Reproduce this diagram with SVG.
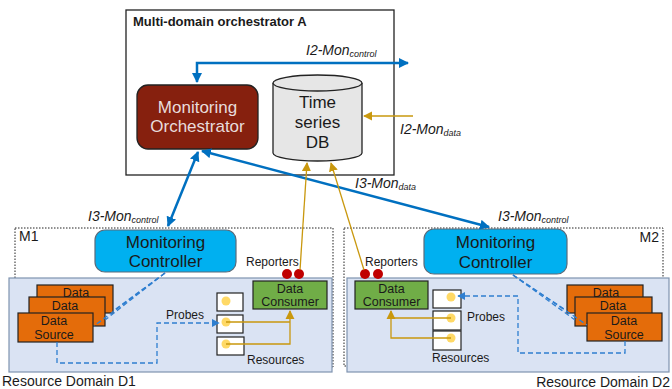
<svg xmlns="http://www.w3.org/2000/svg" width="672" height="389" viewBox="0 0 672 389">
  <style>
    text { font-family: "Liberation Sans", Arial, sans-serif; fill: #1a1a1a; }
    .title { font-size: 13px; font-weight: bold; }
    .big { font-size: 17px; text-anchor: middle; }
    .mid { font-size: 12.5px; text-anchor: middle; }
    .lbl { font-size: 12px; }
    .dom { font-size: 14px; }
    .iface { font-size: 14px; font-style: italic; }
    .sub { font-size: 9px; }
    .ctrl { stroke: #0070c0; stroke-width: 2.5; fill: none; }
    .data { stroke: #c9980e; stroke-width: 1.3; fill: none; }
    .probe { stroke: #2f7fd0; stroke-width: 1.3; fill: none; stroke-dasharray: 5 3; }
    .frame { fill: none; stroke: #222; stroke-width: 1; stroke-dasharray: 1.5 1.5; }
    .domain { fill: #dae3f3; stroke: #7f93b0; stroke-width: 1.2; }
    .src { fill: #e46c0a; stroke: #222; stroke-width: 1.2; }
    .res { fill: #fff; stroke: #222; stroke-width: 1.2; }
    .dot { fill: #ffd966; }
    .rep { fill: #c00000; }
    .consumer { fill: #70ad47; stroke: #222; stroke-width: 1.2; }
    .controller { fill: #00b0f0; stroke: #5a6b7b; stroke-width: 1.2; }
  </style>
  <defs>
    <marker id="arrBlue" viewBox="0 0 10 10" refX="9" refY="5" markerWidth="4" markerHeight="4" orient="auto-start-reverse" markerUnits="strokeWidth">
      <path d="M0,0 L10,5 L0,10 z" fill="#0070c0"/>
    </marker>
    <marker id="arrGold" viewBox="0 0 10 10" refX="9" refY="5" markerWidth="7" markerHeight="7" orient="auto" markerUnits="strokeWidth">
      <path d="M0,0 L10,5 L0,10 z" fill="#c9980e"/>
    </marker>
    <marker id="arrProbe" viewBox="0 0 10 10" refX="9" refY="5" markerWidth="6" markerHeight="6" orient="auto" markerUnits="strokeWidth">
      <path d="M0,0 L10,5 L0,10 z" fill="#2f7fd0"/>
    </marker>
  </defs>

  <!-- Orchestrator frame -->
  <g id="orchestrator-a">
    <rect x="126" y="10" width="268" height="165" fill="#fff" stroke="#222" stroke-width="1.3"/>
    <text class="title" x="133" y="26">Multi-domain orchestrator A</text>
  </g>

  <!-- Monitoring domain frames -->
  <g id="m1-frame">
    <rect class="frame" x="15" y="228" width="318" height="139"/>
    <text class="dom" x="19" y="241">M1</text>
  </g>
  <g id="m2-frame">
    <rect class="frame" x="344" y="228" width="319" height="138"/>
    <text class="dom" x="659" y="242" text-anchor="end">M2</text>
  </g>

  <!-- Resource domains -->
  <g id="domain-d1">
    <rect class="domain" x="9" y="278" width="323" height="94"/>
    <text class="dom" x="2" y="386">Resource Domain D1</text>
  </g>
  <g id="domain-d2">
    <rect class="domain" x="347" y="278" width="322" height="94"/>
    <text class="dom" x="670" y="387" text-anchor="end">Resource Domain D2</text>
  </g>

  <!-- Monitoring orchestrator -->
  <g id="monitoring-orchestrator">
    <rect x="137" y="85" width="121" height="64" rx="11" fill="#86200e" stroke="#222" stroke-width="1.3"/>
    <text class="big" x="197.5" y="113" style="fill:#e8dcdc">Monitoring</text>
    <text class="big" x="197.5" y="132" style="fill:#e8dcdc">Orchestrator</text>
  </g>

  <!-- Time series DB -->
  <g id="time-series-db">
    <path d="M273,83 L273,153 A44.5,8 0 0 0 362,153 L362,83" fill="#e6e6e6" stroke="#222" stroke-width="1.3"/>
    <ellipse cx="317.5" cy="83" rx="44.5" ry="8" fill="#e6e6e6" stroke="#222" stroke-width="1.3"/>
    <text class="big" x="317.5" y="108">Time</text>
    <text class="big" x="317.5" y="128">series</text>
    <text class="big" x="317.5" y="148">DB</text>
  </g>

  <!-- Monitoring controllers -->
  <g id="controller-m1">
    <rect class="controller" x="95" y="230" width="141" height="42" rx="10"/>
    <text class="big" x="165.5" y="248">Monitoring</text>
    <text class="big" x="165.5" y="267">Controller</text>
  </g>
  <g id="controller-m2">
    <rect class="controller" x="424" y="229" width="143" height="45" rx="10"/>
    <text class="big" x="495.5" y="248">Monitoring</text>
    <text class="big" x="495.5" y="268">Controller</text>
  </g>

  <!-- Data consumers with reporters -->
  <g id="consumer-m1">
    <rect class="consumer" x="253" y="281" width="74" height="28"/>
    <text class="mid" x="290" y="293">Data</text>
    <text class="mid" x="290" y="306">Consumer</text>
    <circle class="rep" cx="287" cy="274" r="5"/>
    <circle class="rep" cx="299" cy="274" r="5"/>
    <text class="lbl" x="246" y="266">Reporters</text>
  </g>
  <g id="consumer-m2">
    <rect class="consumer" x="355" y="281" width="73" height="28"/>
    <text class="mid" x="391.5" y="293">Data</text>
    <text class="mid" x="391.5" y="306">Consumer</text>
    <circle class="rep" cx="365" cy="274" r="5"/>
    <circle class="rep" cx="378" cy="274" r="5"/>
    <text class="lbl" x="365" y="266">Reporters</text>
  </g>

  <!-- Data sources -->
  <g id="sources-m1">
    <rect class="src" x="37" y="285" width="76" height="28"/>
    <text class="mid" x="76" y="297">Data</text>
    <rect class="src" x="29" y="297" width="76" height="29"/>
    <text class="mid" x="65" y="310">Data</text>
    <rect class="src" x="18" y="313" width="75" height="29"/>
    <text class="mid" x="54" y="325">Data</text>
    <text class="mid" x="54" y="339">Source</text>
  </g>
  <g id="sources-m2">
    <rect class="src" x="567" y="285" width="76" height="28"/>
    <text class="mid" x="606" y="297">Data</text>
    <rect class="src" x="575" y="297" width="77" height="29"/>
    <text class="mid" x="613" y="310">Data</text>
    <rect class="src" x="587" y="313" width="75" height="28"/>
    <text class="mid" x="624" y="325">Data</text>
    <text class="mid" x="624" y="339">Source</text>
  </g>

  <!-- Resources -->
  <g id="resources-m1">
    <rect class="res" x="217" y="293" width="26" height="18"/>
    <rect class="res" x="217" y="315" width="26" height="18"/>
    <rect class="res" x="217" y="337" width="27" height="18"/>
    <circle class="dot" cx="226" cy="301" r="4.5"/>
    <circle class="dot" cx="226" cy="322" r="4.5"/>
    <circle class="dot" cx="226" cy="344" r="4.5"/>
    <text class="lbl" x="166" y="319">Probes</text>
    <text class="lbl" x="247" y="364">Resources</text>
  </g>
  <g id="resources-m2">
    <rect class="res" x="433" y="290" width="28" height="18"/>
    <rect class="res" x="433" y="311" width="28" height="19"/>
    <rect class="res" x="433" y="331" width="28" height="19"/>
    <circle class="dot" cx="451" cy="297" r="4.5"/>
    <circle class="dot" cx="451" cy="318" r="4.5"/>
    <circle class="dot" cx="451" cy="338" r="4.5"/>
    <text class="lbl" x="467" y="321">Probes</text>
    <text class="lbl" x="432" y="362">Resources</text>
  </g>

  <!-- Connectors -->
  <g id="connectors">
    <!-- control interfaces -->
    <path class="ctrl" d="M197,82 L197,63 L408,63" marker-start="url(#arrBlue)" marker-end="url(#arrBlue)"/>
    <line class="ctrl" x1="168" y1="226" x2="198" y2="152" marker-start="url(#arrBlue)" marker-end="url(#arrBlue)"/>
    <line class="ctrl" x1="202" y1="151" x2="489" y2="227" marker-start="url(#arrBlue)" marker-end="url(#arrBlue)"/>

    <!-- data interfaces -->
    <line class="data" x1="413" y1="116" x2="364" y2="116" marker-end="url(#arrGold)"/>
    <line class="data" x1="300" y1="270" x2="307" y2="163" marker-end="url(#arrGold)"/>
    <line class="data" x1="364" y1="270" x2="331" y2="163" marker-end="url(#arrGold)"/>
    <path class="data" d="M226,322 L290,322 M226,344 L290,344 L290,311" marker-end="url(#arrGold)"/>
    <path class="data" d="M451,318 L391,318 M451,338 L391,338 L391,311" marker-end="url(#arrGold)"/>

    <!-- controller to data sources -->
    <line class="probe" x1="165" y1="273" x2="113" y2="311"/>
    <line class="probe" x1="165" y1="273" x2="105" y2="320"/>
    <line class="probe" x1="165" y1="273" x2="94" y2="326"/>
    <line class="probe" x1="513" y1="275" x2="567" y2="311"/>
    <line class="probe" x1="513" y1="275" x2="575" y2="320"/>
    <line class="probe" x1="513" y1="275" x2="587" y2="325"/>

    <!-- probe deployment -->
    <path class="probe" d="M57,342 L57,363 L157,363 L157,323 L219,323" marker-end="url(#arrProbe)"/>
    <path class="probe" d="M625,341 L625,353 L518,353 L518,296 L458,296" marker-end="url(#arrProbe)"/>
  </g>

  <!-- Interface labels -->
  <g id="labels">
    <text class="iface" x="306" y="55">I2-Mon<tspan class="sub" dy="2">control</tspan></text>
    <text class="iface" x="400" y="134">I2-Mon<tspan class="sub" dy="2">data</tspan></text>
    <text class="iface" x="355" y="188">I3-Mon<tspan class="sub" dy="2">data</tspan></text>
    <text class="iface" x="88" y="221">I3-Mon<tspan class="sub" dy="2">control</tspan></text>
    <text class="iface" x="498" y="221">I3-Mon<tspan class="sub" dy="2">control</tspan></text>
  </g>
</svg>
